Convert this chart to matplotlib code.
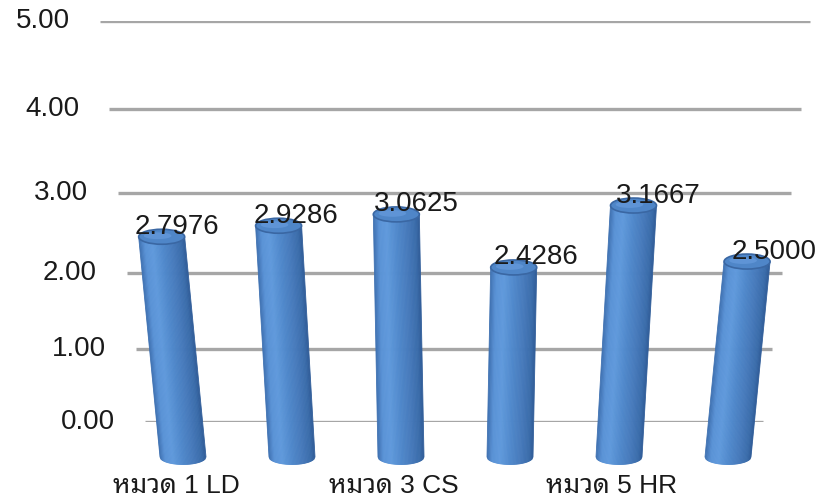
import matplotlib
matplotlib.use("Agg")
import matplotlib.pyplot as plt
import numpy as np
from matplotlib.patches import Polygon, Ellipse
from matplotlib.transforms import IdentityTransform, ScaledTranslation

# --- data ---
categories = ["หมวด 1 LD", "หมวด 2 SP", "หมวด 3 CS", "หมวด 4 IT", "หมวด 5 HR", "หมวด 6 PM"]
values = [2.7976, 2.9286, 3.0625, 2.4286, 3.1667, 2.5000]
y_ticks = [0, 1, 2, 3, 4, 5]
shown = [0, 2, 4]  # only every other category label is printed

# Latin text in an Arial-like face, Thai falls through to a looped Thai face
plt.rcParams["font.family"] = ["Liberation Sans", "Noto Sans Thai Looped", "DejaVu Sans"]

# perspective-like vertical scale (gridline gaps shrink towards the floor)
C = 0.02195
def fwd(v):
    v = np.asarray(v, dtype=float)
    return v / (1 - C * v)
def inv(u):
    u = np.asarray(u, dtype=float)
    return u / (1 + C * u)

W, H = 825, 501
fig = plt.figure(figsize=(W / 100, H / 100), dpi=100)

# --- back wall: gridlines + value axis labels ---
axb = fig.add_axes([0, 79 / H, 1, 401 / H])
axb.set_yscale("function", functions=(fwd, inv))
axb.set_xlim(0, W)
axb.set_ylim(0, 5)
axb.axis("off")
starts = [145 - 9 * v for v in y_ticks]
ends = [763 + 9.4 * v for v in y_ticks]
axb.hlines(y_ticks, starts, ends, color="#a6a6a6", lw=2.4)
for v, s in zip(y_ticks, starts):
    axb.text(s - 30, v, f"{v:.2f}", ha="right", va="center", fontsize=20, color="#1a1a1a")

# --- front plane: cylinders ---
axf = fig.add_axes([0, 44 / H, 1, 415 / H])
axf.set_facecolor("none")
axf.set_yscale("function", functions=(fwd, inv))
axf.set_xlim(-183 / 109, (W - 183) / 109)
axf.set_ylim(0, 5)
for sp in axf.spines.values():
    sp.set_visible(False)
axf.set_yticks([])
axf.set_xticks(shown)
axf.set_xticklabels([categories[i] for i in shown], fontsize=19, color="#1a1a1a")
axf.tick_params(axis="x", length=0, pad=12)
for lab in axf.get_xticklabels():
    lab.set_transform(lab.get_transform() + ScaledTranslation(-7 / 100, 0, fig.dpi_scale_trans))

# cylinder side shading, left -> right
shade_u = [-1.0, -0.75, -0.4, 0.0, 0.5, 0.85, 1.0]
shade_c = ["#3d6eae", "#5992d6", "#609adc", "#518acd", "#4679ba", "#3a6caa", "#305c98"]
def hex2rgb(h):
    return np.array([int(h[k:k + 2], 16) / 255 for k in (1, 3, 5)])
shade_rgb = np.array([hex2rgb(c) for c in shade_c])
def shade(u):
    return [np.interp(u, shade_u, shade_rgb[:, k]) for k in range(3)]

SLANT = 0.028
R, RY = 23, 7.5
NS = 40
ident = IdentityTransform()
for i, v in enumerate(values):
    xtop = i + SLANT * (i - 2.5) * v
    xb, yb = axf.transData.transform((i, 0))
    xt, yt = axf.transData.transform((xtop, v))
    us = np.linspace(-1, 1, NS + 1)
    for u0, u1 in zip(us[:-1], us[1:]):
        s0, s1 = np.sqrt(max(0, 1 - u0 ** 2)), np.sqrt(max(0, 1 - u1 ** 2))
        col = shade((u0 + u1) / 2)
        poly = Polygon([(xb + u0 * R, yb - RY * s0), (xb + u1 * R, yb - RY * s1),
                        (xt + u1 * R, yt), (xt + u0 * R, yt)],
                       closed=True, facecolor=col, edgecolor=col, lw=0.6,
                       transform=ident, clip_on=False, zorder=2)
        axf.add_artist(poly)
    cap = Ellipse((xt, yt), 2 * R, 2 * RY, facecolor="#4f86c8", edgecolor="#3a67a3",
                  lw=1.2, transform=ident, clip_on=False, zorder=3)
    axf.add_artist(cap)
    hl = Ellipse((xt - 4, yt + 1), 1.2 * R, 0.9 * RY, facecolor="#6a9fe0", edgecolor="none",
                 alpha=0.6, transform=ident, clip_on=False, zorder=3)
    axf.add_artist(hl)
    dx = -27 + 2.4 * i
    axf.annotate(f"{v:.4f}", (xtop, v), xytext=(dx * 0.72, 10 * 0.72), textcoords="offset points",
                 ha="left", va="center", fontsize=20, color="#1a1a1a", zorder=5,
                 annotation_clip=False)

fig.savefig("out.png", dpi=100)
